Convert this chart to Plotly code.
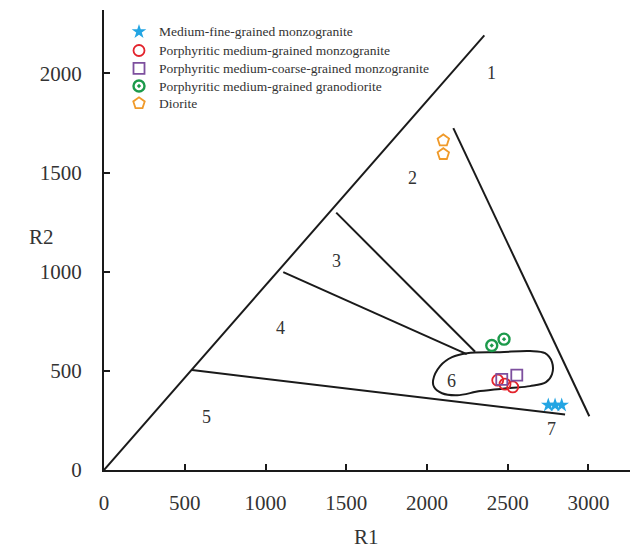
import plotly.graph_objects as go

# ---- Boundary lines (R1, R2) ----
diag_r1 = [0, 2355]
diag_r2 = [0, 2192]
right_r1 = [2163, 3005]
right_r2 = [1724, 271]
line3_r1 = [1438, 2298]
line3_r2 = [1298, 596]
line4_r1 = [1110, 2246]
line4_r2 = [998, 584]
line5_r1 = [545, 2855]
line5_r2 = [504, 280]

# field 6 closed outline
field6_r1 = [2038, 2081, 2155, 2248, 2452, 2638, 2731, 2774, 2774, 2737, 2638, 2514, 2329, 2187, 2093, 2044, 2038]
field6_r2 = [453, 524, 569, 589, 594, 600, 589, 544, 483, 443, 423, 413, 398, 377, 387, 418, 453]

# ---- Samples ----
mfg_r1 = [2751, 2793, 2834]
mfg_r2 = [327, 327, 327]
pmgm_r1 = [2438, 2483, 2531]
pmgm_r2 = [453, 433, 419]
pmcgm_r1 = [2463, 2556]
pmcgm_r2 = [457, 478]
pmgg_r1 = [2401, 2477]
pmgg_r2 = [628, 660]
dio_r1 = [2101, 2101]
dio_r2 = [1662, 1593]

series_names = ["Medium-fine-grained monzogranite",
                "Porphyritic medium-grained monzogranite",
                "Porphyritic medium-coarse-grained monzogranite",
                "Porphyritic medium-grained granodiorite",
                "Diorite"]

field_labels = ["1", "2", "3", "4", "5", "6", "7"]
field_lab_r1 = [2401, 1910, 1437, 1091, 637, 2153, 2772]
field_lab_r2 = [2002, 1472, 1056, 715, 265, 449, 209]

x_ticks = [0, 500, 1000, 1500, 2000, 2500, 3000]
y_ticks = [0, 500, 1000, 1500, 2000]

SERIF = "Liberation Serif, Times New Roman, serif"
LINE = dict(color="#1a1a1a", width=2)

markers = [
    dict(symbol="star", size=11, color="#23a5e3", line=dict(width=0)),
    dict(symbol="circle-open", size=11, color="#e3232c", line=dict(width=1.8)),
    dict(symbol="square-open", size=11, color="#7d4f9e", line=dict(width=1.8)),
    dict(symbol="circle-open-dot", size=11, color="#1c9a4b", line=dict(width=2.4)),
    dict(symbol="pentagon-open", size=12, color="#f09a2a", line=dict(width=1.8)),
]

# plot-area pixel geometry
L, T, W, H = 104, 10, 526, 460

fig = go.Figure()

for xs, ys in [(diag_r1, diag_r2), (right_r1, right_r2), (line3_r1, line3_r2),
               (line4_r1, line4_r2), (line5_r1, line5_r2)]:
    fig.add_trace(go.Scatter(x=xs, y=ys, mode="lines", line=LINE,
                             showlegend=False, hoverinfo="skip"))

fig.add_trace(go.Scatter(x=field6_r1, y=field6_r2, mode="lines",
                         line=dict(color="#1a1a1a", width=2, shape="spline", smoothing=1.0),
                         showlegend=False, hoverinfo="skip"))

for name, xs, ys, mk in zip(series_names,
                            [mfg_r1, pmgm_r1, pmcgm_r1, pmgg_r1, dio_r1],
                            [mfg_r2, pmgm_r2, pmcgm_r2, pmgg_r2, dio_r2],
                            markers):
    fig.add_trace(go.Scatter(x=xs, y=ys, mode="markers", name=name, marker=mk,
                             showlegend=False))

# manual legend on an overlay axis (pixel-like coordinates)
leg_x = 139
leg_y = [31.7, 50.5, 68.3, 86.0, 103.3]
for i, (name, mk) in enumerate(zip(series_names, markers)):
    fig.add_trace(go.Scatter(x=[leg_x], y=[leg_y[i]], mode="markers", marker=mk,
                             xaxis="x2", yaxis="y2", showlegend=False, hoverinfo="skip"))
    fig.add_annotation(xref="x2", yref="y2", x=157, y=leg_y[i], text=name, showarrow=False,
                       xanchor="left", yanchor="middle",
                       font=dict(family=SERIF, size=13.5, color="#333333"))

for t, xv, yv in zip(field_labels, field_lab_r1, field_lab_r2):
    fig.add_annotation(x=xv, y=yv, text=t, showarrow=False,
                       font=dict(family=SERIF, size=18, color="#333333"))

fig.add_annotation(xref="paper", yref="paper", x=(366 - L) / W, y=(T + H - 537) / H,
                   yanchor="middle",
                   text="R1", showarrow=False, font=dict(family=SERIF, size=21, color="#333333"))
fig.add_annotation(xref="paper", yref="paper", x=(27 - L) / W, y=(T + H - 237) / H,
                   text="R2", showarrow=False, font=dict(family=SERIF, size=21, color="#333333"))

fig.update_layout(
    width=630, height=550,
    margin=dict(l=L, r=630 - L - W, t=T, b=550 - T - H),
    plot_bgcolor="white", paper_bgcolor="white",
    font=dict(family=SERIF, size=21, color="#333333"),
    showlegend=False,
    xaxis=dict(range=[0, 3257], tickvals=x_ticks, ticktext=[str(v) for v in x_ticks],
               showgrid=False, zeroline=False, showline=True, linecolor="#1a1a1a", linewidth=2,
               ticks="inside", ticklen=6, tickcolor="#1a1a1a", tickwidth=1.5,
               ticklabelstandoff=13),
    yaxis=dict(range=[0, 2320], tickvals=y_ticks, ticktext=[str(v) for v in y_ticks],
               showgrid=False, zeroline=False, showline=True, linecolor="#1a1a1a", linewidth=2,
               ticks="inside", ticklen=6, tickcolor="#1a1a1a", tickwidth=1.5,
               ticklabelstandoff=16),
    xaxis2=dict(overlaying="x", range=[L, L + W], visible=False, fixedrange=True),
    yaxis2=dict(overlaying="y", range=[T + H, T], visible=False, fixedrange=True),
)

fig.write_html("out.html", config={"displayModeBar": False},
               post_script="document.body.style.margin='0';document.body.style.overflow='hidden';")
